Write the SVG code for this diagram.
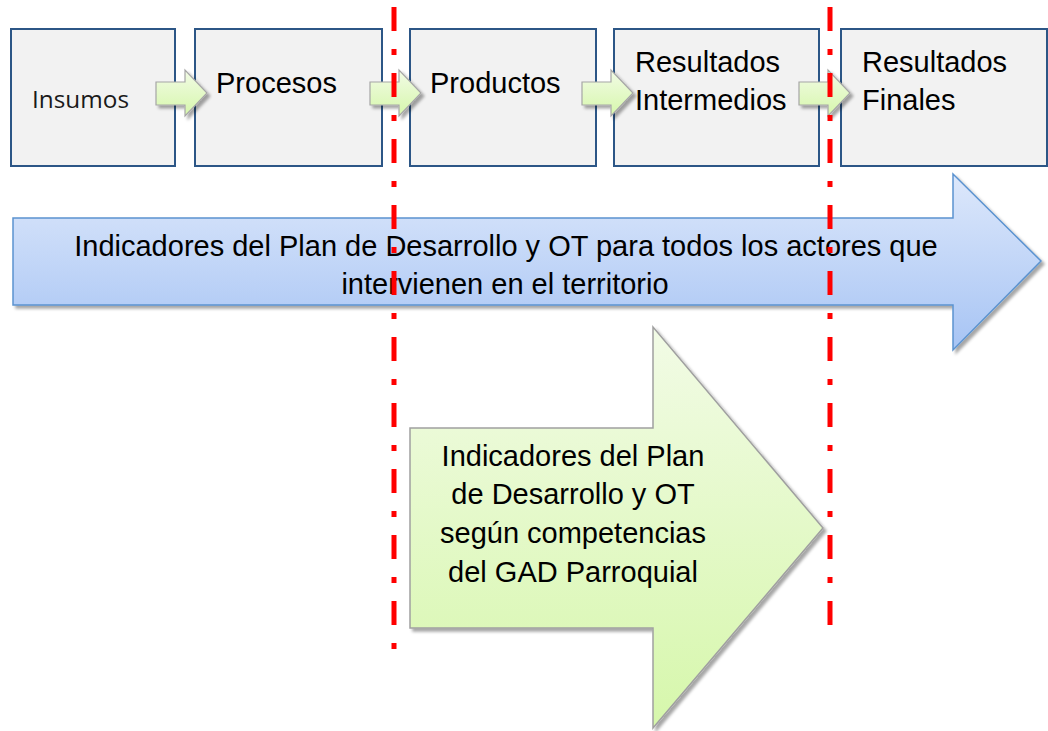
<svg xmlns="http://www.w3.org/2000/svg" width="1048" height="731" viewBox="0 0 1048 731">
<defs>
<linearGradient id="gGreen" x1="0" y1="0" x2="0" y2="1">
<stop offset="0" stop-color="#f2fbe6"/>
<stop offset="1" stop-color="#d6f7ab"/>
</linearGradient>
<linearGradient id="gBlue" x1="0" y1="0" x2="0" y2="1">
<stop offset="0" stop-color="#dde8fb"/>
<stop offset="1" stop-color="#a7c4f4"/>
</linearGradient>
<filter id="sh" x="-10%" y="-10%" width="130%" height="130%">
<feDropShadow dx="3" dy="3" stdDeviation="1.5" flood-color="#000" flood-opacity="0.35"/>
</filter>
<path id="sa" d="M0,12 H29 V0 L51,23 L29,46 V35 H0 Z"/>
</defs>
<style>
.box{fill:#f2f2f2;stroke:#2c5686;stroke-width:2}
.t{font-family:"Liberation Sans",Arial,sans-serif;font-size:29px;fill:#000}
.ins{font-family:"Open Sans","Noto Sans",sans-serif;font-size:24px;fill:#1a1a1a}
.sa{fill:url(#gGreen);stroke:#a6a6a6;stroke-width:1.2;filter:url(#sh)}
.red{stroke:#ff0000;stroke-width:5;stroke-dasharray:24 18 6 18;fill:none}
</style>
<g id="insumos">
<rect class="box" x="11" y="29" width="164" height="137"/>
<text class="ins" x="32" y="108" textLength="97" lengthAdjust="spacingAndGlyphs">Insumos</text>
</g>
<g id="procesos">
<rect class="box" x="195" y="29" width="187" height="137"/>
<text class="t" x="216" y="93">Procesos</text>
</g>
<g id="productos">
<rect class="box" x="410" y="29" width="186" height="137"/>
<text class="t" x="430" y="93">Productos</text>
</g>
<g id="intermedios">
<rect class="box" x="614" y="29" width="205" height="137"/>
<text class="t" x="635" y="72">Resultados</text>
<text class="t" x="635" y="110">Intermedios</text>
</g>
<g id="finales">
<rect class="box" x="841" y="29" width="206" height="137"/>
<text class="t" x="862" y="72">Resultados</text>
<text class="t" x="862" y="110">Finales</text>
</g>
<g id="connectors">
<use href="#sa" class="sa" x="156" y="70"/>
<use href="#sa" class="sa" x="370" y="70"/>
<use href="#sa" class="sa" x="582" y="70"/>
<use href="#sa" class="sa" x="799" y="70"/>
</g>
<g id="blue-arrow">
<path d="M13,218 H953 V174 L1041,261 L953,350 V305 H13 Z" fill="url(#gBlue)" stroke="#5b93d0" stroke-width="1.5" filter="url(#sh)"/>
<text class="t" x="506" y="256" text-anchor="middle">Indicadores del Plan de Desarrollo y OT para todos los actores que</text>
<text class="t" x="505" y="294" text-anchor="middle">intervienen en el territorio</text>
</g>
<g id="green-arrow">
<path d="M410,428 H653 V327 L823,528 L653,728 V628 H410 Z" fill="url(#gGreen)" stroke="#a0a0a0" stroke-width="1.5" filter="url(#sh)"/>
<text class="t" x="573" y="466" text-anchor="middle">Indicadores del Plan</text>
<text class="t" x="573" y="504" text-anchor="middle">de Desarrollo y OT</text>
<text class="t" x="573" y="543" text-anchor="middle">según competencias</text>
<text class="t" x="573" y="582" text-anchor="middle">del GAD Parroquial</text>
</g>
<g id="dividers">
<line class="red" x1="394" y1="7" x2="394" y2="650"/>
<line class="red" x1="830" y1="7" x2="830" y2="626"/>
</g>
</svg>
